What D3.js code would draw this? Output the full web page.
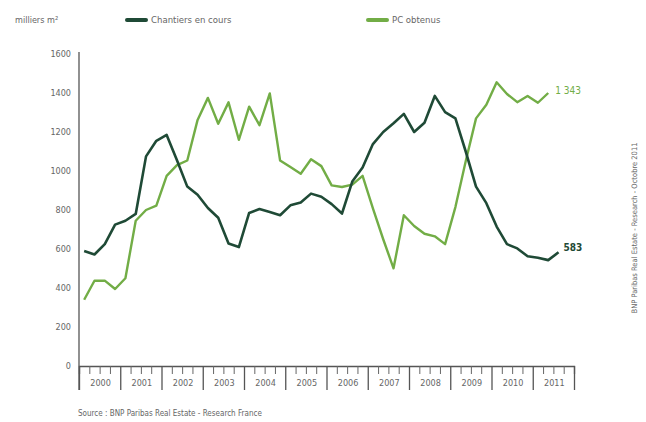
<!DOCTYPE html>
<html>
<head>
<meta charset="utf-8">
<script src="https://cdn.jsdelivr.net/npm/d3@7"></script>
<style>
  body { margin: 0; background: #fff; }
  text { font-family: "DejaVu Sans Condensed", "DejaVu Sans", sans-serif; }
</style>
</head>
<body>
<svg id="chart" width="646" height="422"></svg>
<script>
// quarterly values, 2000 Q1 onwards
var years = ["2000", "2001", "2002", "2003", "2004", "2005", "2006", "2007", "2008", "2009", "2010", "2011"];
var yTicks = [0, 200, 400, 600, 800, 1000, 1200, 1400, 1600];

var chantiers = [590, 572, 625, 725, 745, 780, 1075, 1155, 1185, 1055, 920, 878,
  810, 760, 628, 610, 785, 805, 790, 773, 824, 838, 884, 868,
  830, 782, 946, 1018, 1138, 1200, 1245, 1293, 1200, 1247, 1385, 1302,
  1270, 1100, 920, 835, 715, 625, 603, 563, 555, 543, 583];

var pcObtenus = [340, 437, 438, 395, 450, 745, 800, 822, 975, 1030, 1054, 1262,
  1375, 1242, 1352, 1160, 1330, 1235, 1398, 1054, 1020, 986, 1060, 1025,
  926, 918, 930, 975, 808, 650, 501, 773, 718, 678, 665, 625,
  815, 1050, 1270, 1340, 1455, 1395, 1353, 1385, 1350, 1400];

var labelChantiers = "583";
var labelPC = "1 343";

var dark = "#1f4a36";
var green = "#72ad46";
var grey = "#666";

var svg = d3.select("#chart");

var x = d3.scaleLinear().domain([0, 48]).range([79, 574]);
var y = d3.scaleLinear().domain([0, 1600]).range([366, 54]);

// y axis
var yAxis = svg.append("g")
  .attr("transform", "translate(79,0)")
  .call(d3.axisLeft(y).tickValues(yTicks).tickSize(0).tickPadding(8).tickFormat(d3.format("d")));
yAxis.select(".domain").remove();
yAxis.selectAll("text").attr("fill", grey).style("font-size", "9px");

svg.append("line")
  .attr("x1", 79).attr("x2", 79)
  .attr("y1", y(1600) - 2).attr("y2", 390)
  .attr("stroke", "#555").attr("stroke-width", 1.3);

// x axis: quarter ticks and year dividers
var quarters = d3.range(1, 48).filter(d => d % 4 != 0);
var minor = svg.append("g")
  .attr("transform", "translate(0," + y(0) + ")")
  .call(d3.axisBottom(x).tickValues(quarters).tickSize(8).tickFormat(""));
minor.select(".domain").attr("stroke", "#555").attr("stroke-width", 1.3);
minor.selectAll(".tick line").attr("stroke", "#666");

var major = svg.append("g")
  .attr("transform", "translate(0," + y(0) + ")")
  .call(d3.axisBottom(x).tickValues(d3.range(0, 49, 4)).tickSize(24).tickFormat(""));
major.select(".domain").remove();
major.selectAll(".tick line").attr("stroke", "#555").attr("stroke-width", 1.3);

svg.append("g")
  .selectAll("text")
  .data(years)
  .enter()
  .append("text")
  .attr("x", (d, i) => x(i * 4 + 2) + 1)
  .attr("y", y(0) + 20)
  .attr("text-anchor", "middle")
  .attr("fill", grey)
  .style("font-size", "9px")
  .text(d => d);

// lines
var line = d3.line()
  .x((d, i) => x(i + 0.5))
  .y(d => y(d));

svg.append("path")
  .datum(pcObtenus)
  .attr("fill", "none")
  .attr("stroke", green)
  .attr("stroke-width", 2.4)
  .attr("stroke-linejoin", "round")
  .attr("d", line);

svg.append("path")
  .datum(chantiers)
  .attr("fill", "none")
  .attr("stroke", dark)
  .attr("stroke-width", 2.6)
  .attr("stroke-linejoin", "round")
  .attr("d", line);

// end labels
svg.append("text")
  .attr("x", x(pcObtenus.length - 0.5) + 7)
  .attr("y", y(pcObtenus[pcObtenus.length - 1]) + 1)
  .attr("fill", green)
  .style("font-size", "10px")
  .text(labelPC);

svg.append("text")
  .attr("x", x(chantiers.length - 0.5) + 5)
  .attr("y", y(chantiers[chantiers.length - 1]) - 1)
  .attr("fill", dark)
  .style("font-size", "10px")
  .style("font-weight", "bold")
  .text(labelChantiers);

// legend
svg.append("text")
  .attr("x", 15).attr("y", 23)
  .attr("fill", grey)
  .style("font-size", "9px")
  .text("milliers m²");

var legend = [
  { name: "Chantiers en cours", color: dark, x: 127 },
  { name: "PC obtenus", color: green, x: 368 }
];
var lg = svg.append("g")
  .selectAll("g")
  .data(legend)
  .enter()
  .append("g")
  .attr("transform", d => "translate(" + d.x + ",20)");
lg.append("line")
  .attr("x1", 0).attr("x2", 19)
  .attr("stroke", d => d.color)
  .attr("stroke-width", 4)
  .attr("stroke-linecap", "round");
lg.append("text")
  .attr("x", 24).attr("y", 3)
  .attr("fill", grey)
  .style("font-size", "9.5px")
  .text(d => d.name);

// source and side note
svg.append("text")
  .attr("x", 78).attr("y", 416)
  .attr("fill", grey)
  .style("font-size", "8px")
  .text("Source : BNP Paribas Real Estate - Research France");

svg.append("text")
  .attr("transform", "translate(637,228) rotate(-90)")
  .attr("text-anchor", "middle")
  .attr("fill", grey)
  .style("font-size", "7.5px")
  .text("BNP Paribas Real Estate - Research - Octobre 2011");
</script>
</body>
</html>
